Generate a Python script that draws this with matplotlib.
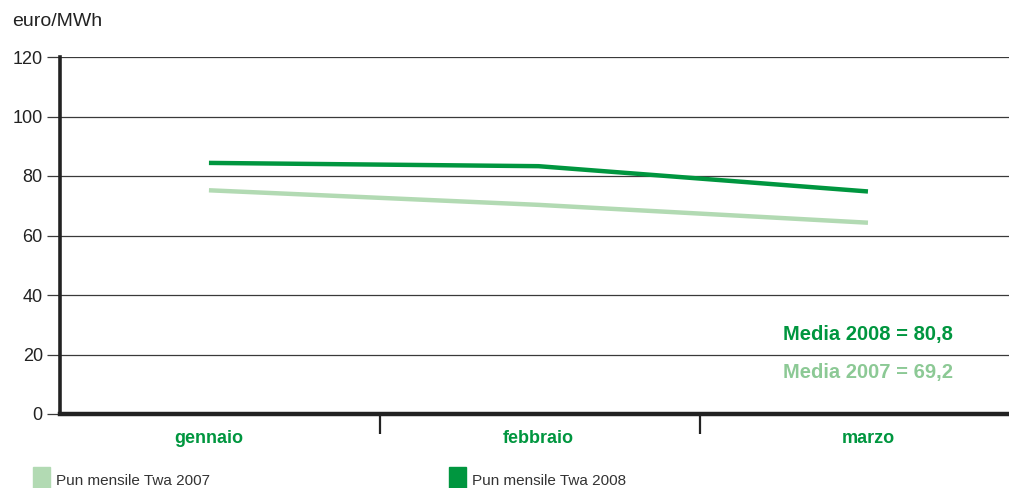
import matplotlib
matplotlib.use("Agg")
import matplotlib.pyplot as plt
from matplotlib.patches import Rectangle

# Monthly PUN time-weighted average prices (euro/MWh)
mesi = ["gennaio", "febbraio", "marzo"]
pun_2007 = [75.2, 70.3, 64.3]
pun_2008 = [84.4, 83.3, 74.8]
media_2007 = "69,2"
media_2008 = "80,8"
y_ticks = [0, 20, 40, 60, 80, 100, 120]

VERDE_SCURO = "#00963f"
VERDE_CHIARO = "#b2dab3"
VERDE_TESTO_CHIARO = "#8cc995"

plt.rcParams["font.family"] = ["Liberation Sans", "DejaVu Sans"]

fig = plt.figure(figsize=(10.09, 4.88), dpi=100)
ax = fig.add_axes([60 / 1009, 74 / 488, 949 / 1009, 357 / 488])

x = list(range(len(mesi)))
ax.plot(x, pun_2007, color=VERDE_CHIARO, lw=3.2, solid_capstyle="butt", zorder=3)
ax.plot(x, pun_2008, color=VERDE_SCURO, lw=3.2, solid_capstyle="butt", zorder=4)

ax.set_xlim(-0.452, 2.428)
ax.set_ylim(0, 120)

# horizontal grid
for v in y_ticks[1:]:
    ax.axhline(v, color="#3a3a3a", lw=0.9, zorder=1)
ax.set_yticks(y_ticks)
ax.tick_params(axis="y", length=9.4, width=0.9, color="#3a3a3a", labelsize=13,
               labelcolor="#222222", pad=3)

# category separators on the x axis
ax.set_xticks([0.519, 1.490])
ax.set_xticklabels([])
ax.tick_params(axis="x", length=14.4, width=1.6, color="#222222", direction="out")
for xi, nome in zip(x, mesi):
    ax.text(xi, -5.4, nome, ha="center", va="top", fontsize=13, fontweight="bold",
            color=VERDE_SCURO, transform=ax.transData)

for s in ["top", "right"]:
    ax.spines[s].set_visible(False)
ax.spines["left"].set_linewidth(2.6)
ax.spines["left"].set_color("#222222")
ax.spines["bottom"].set_linewidth(3.2)
ax.spines["bottom"].set_color("#222222")
ax.spines["bottom"].set_zorder(5)

# y label
fig.text(12 / 1009, 1 - 22 / 488, "euro/MWh", ha="left", va="center", fontsize=14,
         color="#222222")

# averages
ax.text(1.742, 26.6, f"Media 2008 = {media_2008}", ha="left", va="center",
        fontsize=14.5, fontweight="bold", color=VERDE_SCURO)
ax.text(1.742, 13.9, f"Media 2007 = {media_2007}", ha="left", va="center",
        fontsize=14.5, fontweight="bold", color=VERDE_TESTO_CHIARO)

# legend
for x0, col, lab in [(33, VERDE_CHIARO, "Pun mensile Twa 2007"),
                     (449, VERDE_SCURO, "Pun mensile Twa 2008")]:
    fig.patches.append(Rectangle((x0 / 1009, 0), 17 / 1009, 21 / 488,
                                 transform=fig.transFigure, color=col))
    fig.text((x0 + 23) / 1009, 1 - 481 / 488, lab, ha="left", va="center",
             fontsize=11, color="#333333")

fig.savefig("out.png", dpi=100)
